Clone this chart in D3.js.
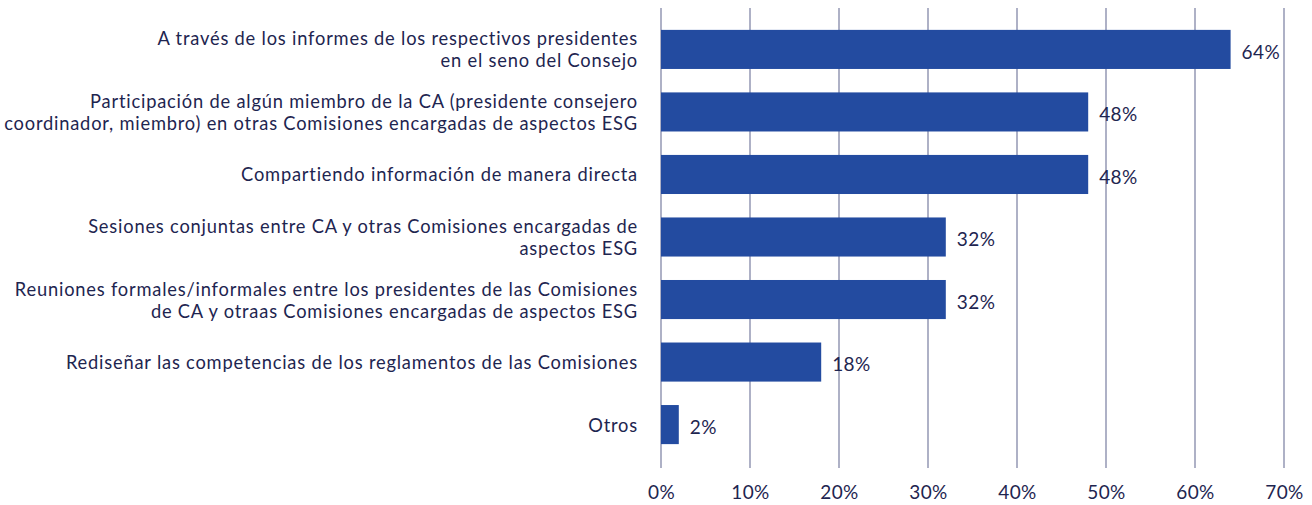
<!DOCTYPE html>
<html>
<head>
<meta charset="utf-8">
<script src="https://cdn.jsdelivr.net/npm/d3@7"></script>
<style>
  body { margin: 0; background: #fff; }
  svg text { font-family: "Lato", "Open Sans", sans-serif; fill: #1e2550; }
</style>
</head>
<body>
<svg id="chart"></svg>
<script>
// categories (each is an array of label lines)
const categories = [
    ["A través de los informes de los respectivos presidentes", "en el seno del Consejo"],
    ["Participación de algún miembro de la CA (presidente consejero", "coordinador, miembro) en otras Comisiones encargadas de aspectos ESG"],
    ["Compartiendo información de manera directa"],
    ["Sesiones conjuntas entre CA y otras Comisiones encargadas de", "aspectos ESG"],
    ["Reuniones formales/informales entre los presidentes de las Comisiones", "de CA y otraas Comisiones encargadas de aspectos ESG"],
    ["Rediseñar las competencias de los reglamentos de las Comisiones"],
    ["Otros"]
];
const values = [64, 48, 48, 32, 32, 18, 2];
const ticks = [0, 10, 20, 30, 40, 50, 60, 70];

const W = 1312, H = 505;
const margin = { top: 8, right: 28, bottom: 37, left: 661 };
const width = W - margin.left - margin.right;
const height = H - margin.top - margin.bottom;

const svg = d3.select('#chart')
    .attr('width', W)
    .attr('height', H);

const g = svg.append('g')
    .attr('transform', `translate(${margin.left},${margin.top})`);

const x = d3.scaleLinear()
    .domain([0, 70])
    .range([0, 623]);

const y = d3.scaleBand()
    .domain(d3.range(categories.length))
    .range([10, height - 12])
    .paddingInner(0.375)
    .paddingOuter(0.19);

// vertical gridlines
g.selectAll('.grid')
    .data(ticks)
    .enter().append('line')
    .attr('class', 'grid')
    .attr('x1', d => x(d))
    .attr('x2', d => x(d))
    .attr('y1', 0)
    .attr('y2', height)
    .attr('stroke', '#9a9eb8')
    .attr('stroke-width', 1.6);

// bars
g.selectAll('.bar')
    .data(values)
    .enter().append('rect')
    .attr('class', 'bar')
    .attr('x', 0)
    .attr('y', (d, i) => y(i))
    .attr('width', d => x(d))
    .attr('height', y.bandwidth())
    .attr('fill', '#234ba0');

// value labels
g.selectAll('.label')
    .data(values)
    .enter().append('text')
    .attr('class', 'label')
    .attr('x', d => x(d) + 11)
    .attr('y', (d, i) => y(i) + y.bandwidth() / 2 + 2.5)
    .attr('dy', '0.36em')
    .style('font-size', '19px')
    .style('letter-spacing', '0.4px')
    .text(d => d + '%');

// category labels
const cat = g.selectAll('.cat')
    .data(categories)
    .enter().append('text')
    .attr('class', 'cat')
    .attr('text-anchor', 'end')
    .attr('x', -23)
    .attr('y', (d, i) => y(i) + y.bandwidth() / 2 + 7)
    .style('font-size', '18.3px')
    .style('letter-spacing', '0.8px');

cat.selectAll('tspan')
    .data(d => d.map((t, j) => ({ t, j, n: d.length })))
    .enter().append('tspan')
    .attr('x', -23)
    .attr('dy', d => d.j === 0 ? (-(d.n - 1) * 11) : 22)
    .text(d => d.t);

// x axis tick labels
g.append('g')
    .attr('transform', `translate(0,${height})`)
    .call(d3.axisBottom(x).tickValues(ticks).tickSize(0).tickPadding(18).tickFormat(d => d + '%'))
    .call(a => a.select('.domain').remove())
    .selectAll('text')
    .style('font-size', '19px')
    .style('letter-spacing', '0.4px')
    .style('font-family', '"Lato", "Open Sans", sans-serif')
    .attr('fill', '#1e2550');
</script>
</body>
</html>
